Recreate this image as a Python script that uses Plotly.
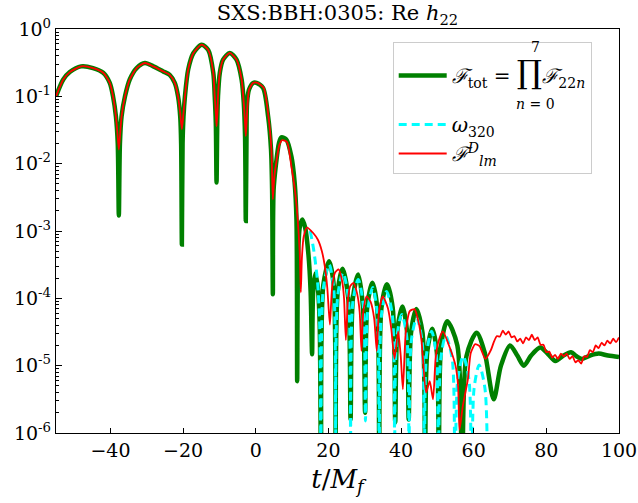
import numpy as np
import plotly.graph_objects as go

# ---------------- data (time t/M_f, log10 |Re h22|) ----------------
green_t = [
    -55, -53, -51.2, -48.1, -44.8, -42, -40.2, -39.3, -38.5, -38.0, -37.7, -37.4, -36.95, -36, -34.7,
    -32.8, -30.5, -28.2, -25.5, -23.7, -22.3, -21.4, -20.8, -20.55, -20.35, -20.15, -19.9, -19.5, -18.6,
    -17.2, -14.9, -13.1, -11.7, -11.3, -11.0, -10.8, -10.6, -10.4, -9.9, -9.0, -7.15, -5.3, -3.9, -3.3,
    -2.95, -2.75, -2.55, -2.4, -1.85, -0.7, 0.2, 2.0, 3.4, 4.2, 4.5, 4.7, 4.9, 5.5, 6.4, 7.05, 8.4, 9.8,
    10.7, 11.2, 11.4, 11.65, 12.1, 12.8, 13.6, 14.5, 15.1, 15.5, 15.8, 16.4, 17.1, 17.6, 18.0,
    18.6, 20.2, 21.45, 22.0, 22.55, 23.9, 25.45, 26.1, 26.75, 28.2, 29.5, 30.1, 30.7, 32.1, 33.4, 34.0,
    34.6, 36.1, 37.7, 38.4, 39.0, 40.4, 41.6, 42.1, 42.75, 44.2, 45.9, 46.6, 47.2, 48.6, 49.85, 50.4,
    51.05, 52.7, 55.5, 56.8, 58.0, 60.8, 63.0, 65.5, 67.5, 70.0, 72.0, 73.8, 75.8, 78.3, 80.5, 82.5,
    84.7, 86.8, 88.3, 89.8, 92.0, 94.4, 97.0, 100.0,
]
green_log_amp = [
    -1.0, -0.75, -0.64, -0.555, -0.58, -0.65, -0.80, -1.0, -1.3, -1.7, -2.77, -1.7, -1.3, -1.0, -0.75,
    -0.58, -0.505, -0.555, -0.63, -0.68, -0.80, -1.0, -1.3, -1.7, -3.2, -1.7, -1.3, -1.0, -0.6,
    -0.36, -0.233, -0.31, -0.65, -1.0, -1.4, -2.28, -1.4, -1.0, -0.65, -0.455, -0.356, -0.455, -0.75, -1.1,
    -1.6, -2.85, -1.6, -1.1, -0.9, -0.80, -0.8, -0.875, -1.3, -1.79, -2.4, -3.94, -2.4, -2.04, -1.69, -1.61, -1.64, -1.89,
    -2.28, -2.83, -5.23, -3.4, -2.95, -2.83, -2.95, -3.35, -3.9, -4.83, -3.9, -3.63, -3.85, -4.4, -7.0,
    -3.8, -3.45, -3.8, -7.0, -3.91, -3.56, -3.99, -5.8, -4.0, -3.645, -4.12, -5.7, -4.12, -3.77, -4.12, -7.0,
    -4.14, -3.79, -4.14, -5.84, -4.47, -4.12, -4.47, -5.8, -4.51, -4.16, -4.51, -7.0, -4.8, -4.45, -4.8, -7.0,
    -4.69, -4.34, -4.7, -7.0, -4.86, -4.51, -4.8, -5.5, -5.0, -4.70, -4.85, -5.0, -4.85, -4.73, -4.83, -4.93,
    -4.85, -4.80, -4.86, -4.9, -4.85, -4.82, -4.85, -4.87,
]

cyan_t = [
    15.0, 16.0, 17.0, 17.6, 18.0, 18.6, 20.2, 21.45, 22.0, 22.55, 24.0, 25.5, 26.1, 26.7, 28.2, 29.6,
    30.2, 30.8, 32.2, 33.4, 34.0, 34.6, 36.0, 37.6, 38.2, 38.8, 40.2, 41.6, 42.2, 42.8, 44.3, 45.8,
    46.4, 47.0, 48.4, 49.7, 50.3, 50.9, 52.3, 54.1, 54.8, 55.6, 57.1, 58.7, 59.4, 60.1, 61.5, 63.1, 63.8,
]
cyan_log_amp = [
    -3.0, -3.3, -3.75, -4.4, -7.0, -3.85, -3.5, -3.85, -7.0, -3.97, -3.62, -4.0, -7.0, -4.07, -3.72, -4.1,
    -5.82, -4.19, -3.84, -4.2, -7.0, -4.25, -3.9, -4.25, -7.0, -4.59, -4.24, -4.59, -7.0, -4.64, -4.29, -4.64,
    -7.0, -4.84, -4.49, -4.84, -7.0, -4.91, -4.56, -4.91, -7.0, -5.21, -4.86, -5.21, -7.0, -5.34, -4.99, -5.34, -7.0,
]

red_t = [
    -55, -53, -51.2, -48.1, -44.8, -42, -40.2, -39.3, -38.5, -38.0, -37.7, -37.4, -36.95, -36, -34.7,
    -32.8, -30.5, -28.2, -25.5, -23.7, -22.3, -21.4, -20.8, -20.35, -19.9, -19.5, -18.6, -17.2, -14.9,
    -13.1, -11.7, -11.3, -11.0, -10.8, -10.55, -10.4, -9.9, -9.0, -7.15, -5.3, -3.9, -3.3, -3.0, -2.75,
    -2.45, -1.85, -0.7, 0.5, 2.2, 3.5, 4.3, 4.7, 5.1, 5.6, 6.5, 7.3, 8.6, 9.8, 10.8, 11.5, 12.1, 12.4,
    12.7, 13.2, 14.1, 15.8, 17.1, 18.2, 19.0, 19.7, 20.4, 21.0, 21.8, 22.8, 23.8, 24.3, 24.8, 25.4,
    26.0, 26.9, 27.9, 28.6, 29.1, 29.6, 30.5, 31.6, 32.6, 33.3, 33.9, 35.0, 36.4, 37.3, 38.2, 39.2,
    39.9, 40.5, 41.3, 42.4, 43.7, 44.8, 45.6, 46.9, 47.9, 48.8, 49.5, 50.2, 51.5, 53.4, 55.0, 55.7,
    56.1, 57.0, 58.4, 59.2, 60.4, 61.6, 63.2, 64.8, 65.6,
    66.4, 67.2, 68.0, 68.8, 69.6, 70.4, 71.2, 72.0, 72.8, 73.6, 74.4, 75.2, 76.0, 76.8, 77.6, 78.4,
    79.2, 80.0, 80.8, 81.6, 82.4, 83.2, 84.0, 84.8, 85.6, 86.4, 87.2, 88.0, 88.8, 89.6, 90.4, 91.2,
    92.0, 92.8, 93.6, 94.4, 95.2, 96.0, 96.8, 97.6, 98.4, 99.2, 100.0,
]
red_log_amp = [
    -1.0, -0.75, -0.64, -0.555, -0.58, -0.65, -0.80, -1.0, -1.3, -1.6, -1.79, -1.6, -1.3, -1.0, -0.75,
    -0.58, -0.505, -0.555, -0.63, -0.68, -0.80, -1.0, -1.25, -1.49, -1.25, -1.0, -0.6, -0.36, -0.233,
    -0.31, -0.65, -1.0, -1.25, -1.445, -1.25, -1.0, -0.65, -0.455, -0.356, -0.455, -0.75, -1.1, -1.35, -1.59,
    -1.3, -0.9, -0.80, -0.8, -0.875, -1.3, -1.79, -2.53, -2.2, -2.0, -1.72, -1.65, -1.68, -2.04, -2.4, -2.8, -3.32, -3.91,
    -3.4, -3.08, -2.95, -3.03, -3.13, -3.3, -3.52, -3.85, -4.39, -3.85, -3.62, -3.57, -3.75, -4.0, -4.62, -4.0,
    -3.82, -3.77, -3.93, -4.2, -4.78, -4.2, -3.97, -4.05, -4.3, -4.78, -4.2, -3.97, -4.15, -4.45, -4.9, -4.49,
    -4.85, -5.35, -4.5, -4.19, -4.16, -4.35, -4.61, -5.4, -5.23, -5.5, -4.9, -4.66, -4.49, -4.73, -5.0, -5.3,
    -5.95, -5.6, -5.2, -4.81, -4.68, -4.71, -4.9, -4.76, -4.64,
    -4.56, -4.57, -4.48, -4.54, -4.49, -4.58, -4.56, -4.64, -4.60, -4.67, -4.58, -4.62, -4.54, -4.62, -4.58, -4.69,
    -4.69, -4.80, -4.79, -4.88, -4.84, -4.90, -4.82, -4.86, -4.82, -4.90, -4.86, -4.95, -4.92, -4.97, -4.86, -4.87,
    -4.77, -4.80, -4.70, -4.74, -4.66, -4.70, -4.63, -4.67, -4.60, -4.65, -4.58,
]

x_ticks = [-40, -20, 0, 20, 40, 60, 80, 100]
y_exponents = [-6, -5, -4, -3, -2, -1, 0]
title_text = "SXS:BBH:0305: Re <i>h</i><sub>22</sub>"

# ---------------- figure ----------------
SERIF = "DejaVu Serif, Liberation Serif, serif"
NB = "&nbsp;"
W, H = 638, 503
ML, MR, MT, MB = 56, 18.5, 29, 70
PW, PH = W - ML - MR, H - MT - MB


def px_to_paper(px, py):
    return (px - ML) / PW, (H - MB - py) / PH


leg1 = ("<i>ℱ</i><sub>tot</sub> = <span style='font-size:32px'>∏</span>"
        "<i>ℱ</i><sub>22<i>n</i></sub>")
leg2 = "<i>ω</i><sub>320</sub>"
leg3 = "<i>ℱ</i><sup><i>D</i></sup><sub><i>lm</i></sub>"

fig = go.Figure()
fig.add_trace(go.Scatter(x=green_t, y=np.power(10.0, green_log_amp), mode="lines",
                         line=dict(color="#008000", width=4.5, shape="spline", smoothing=0.8),
                         name=leg1, legendgroup="a"))
fig.add_trace(go.Scatter(x=cyan_t, y=np.power(10.0, cyan_log_amp), mode="lines",
                         line=dict(color="#00FFFF", width=3, dash="8px,5px", shape="spline", smoothing=0.8),
                         name=leg2, legendgroup="b"))
fig.add_trace(go.Scatter(x=red_t, y=np.power(10.0, red_log_amp), mode="lines",
                         line=dict(color="#FF0000", width=1.8, shape="spline", smoothing=0.6),
                         name=leg3, legendgroup="b"))

minor_vals = [m * 10.0 ** e for e in range(-6, 0) for m in range(2, 10)]
lx, ly = px_to_paper(393, 42)
sx, s7 = px_to_paper(536, 47)
_, sn0 = px_to_paper(536, 104)

fig.update_layout(
    width=W, height=H,
    margin=dict(l=ML, r=MR, t=MT, b=MB),
    paper_bgcolor="white", plot_bgcolor="white",
    font=dict(family=SERIF, size=18, color="black"),
    title=dict(text=title_text, x=0.5, xref="paper", xanchor="center",
               y=1 - 13 / H, yref="container", yanchor="middle",
               font=dict(family=SERIF, size=21, color="black")),
    xaxis=dict(range=[-55, 100], tickvals=x_ticks, ticks="inside", ticklen=5, tickwidth=1.2,
               tickcolor="black", showline=True, linecolor="black", linewidth=1.3, mirror=True,
               showgrid=False, zeroline=False, tickfont=dict(size=19), automargin=False,
               title=dict(text="<i>t</i>/<i>M<sub>f</sub></i>", font=dict(size=26), standoff=9)),
    yaxis=dict(type="log", range=[-6, 0], tickvals=[10.0 ** e for e in y_exponents],
               ticktext=["10<sup>%d</sup>" % e for e in y_exponents],
               ticks="inside", ticklen=6, tickwidth=1.2, tickcolor="black", automargin=False,
               minor=dict(tickvals=minor_vals, ticks="inside", ticklen=3, tickwidth=1, tickcolor="black",
                          showgrid=False),
               showline=True, linecolor="black", linewidth=1.3, mirror=True,
               showgrid=False, zeroline=False, tickfont=dict(size=19)),
    showlegend=True,
    legend=dict(x=lx, y=ly, xanchor="left", yanchor="top", traceorder="grouped",
                bgcolor="rgba(255,255,255,0.85)", bordercolor="#cccccc", borderwidth=1,
                font=dict(family=SERIF, size=20), tracegroupgap=20, itemwidth=48,
                title=dict(text=NB, font=dict(size=10))),
    annotations=[
        dict(text="7", xref="paper", yref="paper", x=sx, y=s7,
             showarrow=False, font=dict(family=SERIF, size=14), xanchor="center", yanchor="middle"),
        dict(text="<i>n</i> = 0", xref="paper", yref="paper", x=sx, y=sn0,
             showarrow=False, font=dict(family=SERIF, size=14), xanchor="center", yanchor="middle"),
    ],
)

fig.write_html("out.html", config={"displayModeBar": False},
               post_script="document.body.style.margin='0px';")
